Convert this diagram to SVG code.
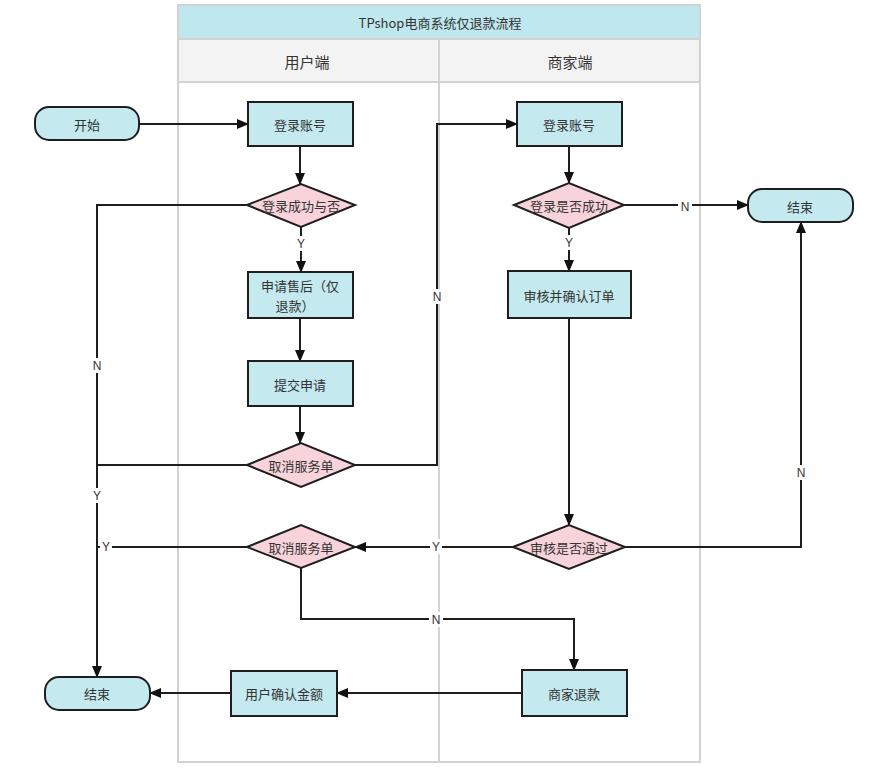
<svg xmlns="http://www.w3.org/2000/svg" width="889" height="780" viewBox="0 0 889 780">
<defs>
<style>
.lane{fill:none;stroke:#d2d2d2;stroke-width:2}
.proc{fill:#c4e9ef;stroke:#1e1e1e;stroke-width:2}
.dec{fill:#f8d3da;stroke:#1e1e1e;stroke-width:2}
.t{font-family:"Noto Sans CJK SC","Liberation Sans",sans-serif;font-size:13px;fill:#333;text-anchor:middle;dominant-baseline:central}
.h{font-size:15px}
.c{fill:none;stroke:#1e1e1e;stroke-width:2}
.lbl{font-family:"Liberation Sans","Noto Sans CJK SC",sans-serif;font-size:12px;fill:#333;text-anchor:middle;dominant-baseline:central}
.bg{fill:#ffffff}
</style>
<marker id="arr" markerWidth="12" markerHeight="10" refX="11" refY="5" orient="auto" markerUnits="userSpaceOnUse">
<path d="M0,0 L12,5 L0,10 Z" fill="#111"/>
</marker>
</defs>
<rect width="889" height="780" fill="#ffffff"/>
<g id="swimlane">
<rect x="178" y="5" width="522" height="34" fill="#bfe7ee"/>
<rect x="178" y="39" width="522" height="43" fill="#f3f3f3"/>
<rect class="lane" x="178" y="5" width="522" height="757"/>
<line class="lane" x1="178" y1="39" x2="700" y2="39"/>
<line class="lane" x1="178" y1="82" x2="700" y2="82"/>
<line class="lane" x1="439" y1="39" x2="439" y2="762"/>
<text class="t" x="440" y="22">TPshop电商系统仅退款流程</text>
<text class="t h" x="307" y="61">用户端</text>
<text class="t h" x="570" y="61">商家端</text>
</g>
<g id="connectors">
<path class="c" d="M139,124 L248,124" marker-end="url(#arr)"/>
<path class="c" d="M300,146 L300,184" marker-end="url(#arr)"/>
<path class="c" d="M301,227 L301,272" marker-end="url(#arr)"/>
<path class="c" d="M300,318 L300,361" marker-end="url(#arr)"/>
<path class="c" d="M300,406 L300,443" marker-end="url(#arr)"/>
<path class="c" d="M247,205 L97,205 L97,677" marker-end="url(#arr)"/>
<path class="c" d="M247,465 L97,465"/>
<path class="c" d="M355,465 L437,465 L437,124 L517,124" marker-end="url(#arr)"/>
<path class="c" d="M569,146 L569,183" marker-end="url(#arr)"/>
<path class="c" d="M624,205 L748,205" marker-end="url(#arr)"/>
<path class="c" d="M569,228 L569,271" marker-end="url(#arr)"/>
<path class="c" d="M569,318 L569,525" marker-end="url(#arr)"/>
<path class="c" d="M625,547 L801,547 L801,222" marker-end="url(#arr)"/>
<path class="c" d="M513,547 L355,547" marker-end="url(#arr)"/>
<path class="c" d="M247,547 L97,547"/>
<path class="c" d="M301,568 L301,619 L574,619 L574,670" marker-end="url(#arr)"/>
<path class="c" d="M522,693 L337,693" marker-end="url(#arr)"/>
<path class="c" d="M231,693 L150,693" marker-end="url(#arr)"/>
<rect class="bg" x="295" y="236" width="12" height="15"/><text class="lbl" x="301" y="244">Y</text>
<rect class="bg" x="563" y="235" width="12" height="15"/><text class="lbl" x="569" y="243">Y</text>
<rect class="bg" x="678" y="199" width="14" height="15"/><text class="lbl" x="685" y="207">N</text>
<rect class="bg" x="430" y="289" width="14" height="15"/><text class="lbl" x="437" y="297">N</text>
<rect class="bg" x="90" y="358" width="14" height="15"/><text class="lbl" x="97" y="366">N</text>
<rect class="bg" x="91" y="488" width="12" height="15"/><text class="lbl" x="97" y="496">Y</text>
<rect class="bg" x="100" y="539" width="12" height="15"/><text class="lbl" x="106" y="547">Y</text>
<rect class="bg" x="430" y="539" width="12" height="15"/><text class="lbl" x="436" y="547">Y</text>
<rect class="bg" x="794" y="465" width="14" height="15"/><text class="lbl" x="801" y="473">N</text>
<rect class="bg" x="429" y="612" width="14" height="15"/><text class="lbl" x="436" y="620">N</text>
</g>
<g id="start">
<rect class="proc" x="35" y="107" width="104" height="33" rx="14"/>
<text class="t" x="87" y="124">开始</text>
</g>
<g id="user-login">
<rect class="proc" x="248" y="102" width="105" height="44"/>
<text class="t" x="300" y="124">登录账号</text>
</g>
<g id="user-login-ok">
<polygon class="dec" points="247,205 301,184 355,205 301,227"/>
<text class="t" x="301" y="205">登录成功与否</text>
</g>
<g id="apply">
<rect class="proc" x="248" y="272" width="105" height="46"/>
<text class="t" x="300" y="285">申请售后（仅</text>
<text class="t" x="295" y="305">退款）</text>
</g>
<g id="submit">
<rect class="proc" x="248" y="361" width="105" height="45"/>
<text class="t" x="300" y="384">提交申请</text>
</g>
<g id="cancel1">
<polygon class="dec" points="247,465 301,443 355,465 301,487"/>
<text class="t" x="301" y="465">取消服务单</text>
</g>
<g id="merchant-login">
<rect class="proc" x="517" y="102" width="105" height="44"/>
<text class="t" x="569" y="124">登录账号</text>
</g>
<g id="merchant-login-ok">
<polygon class="dec" points="514,205 569,183 624,205 569,228"/>
<text class="t" x="569" y="205">登录是否成功</text>
</g>
<g id="end-right">
<rect class="proc" x="748" y="189" width="105" height="33" rx="14"/>
<text class="t" x="800" y="206">结束</text>
</g>
<g id="review">
<rect class="proc" x="508" y="271" width="123" height="47"/>
<text class="t" x="569" y="295">审核并确认订单</text>
</g>
<g id="review-ok">
<polygon class="dec" points="513,547 569,525 625,547 569,569"/>
<text class="t" x="569" y="547">审核是否通过</text>
</g>
<g id="cancel2">
<polygon class="dec" points="247,547 301,525 355,547 301,568"/>
<text class="t" x="301" y="547">取消服务单</text>
</g>
<g id="refund">
<rect class="proc" x="522" y="670" width="105" height="46"/>
<text class="t" x="574" y="693">商家退款</text>
</g>
<g id="confirm">
<rect class="proc" x="231" y="671" width="106" height="45"/>
<text class="t" x="284" y="693">用户确认金额</text>
</g>
<g id="end-left">
<rect class="proc" x="45" y="677" width="105" height="33" rx="14"/>
<text class="t" x="97" y="693">结束</text>
</g>
</svg>
